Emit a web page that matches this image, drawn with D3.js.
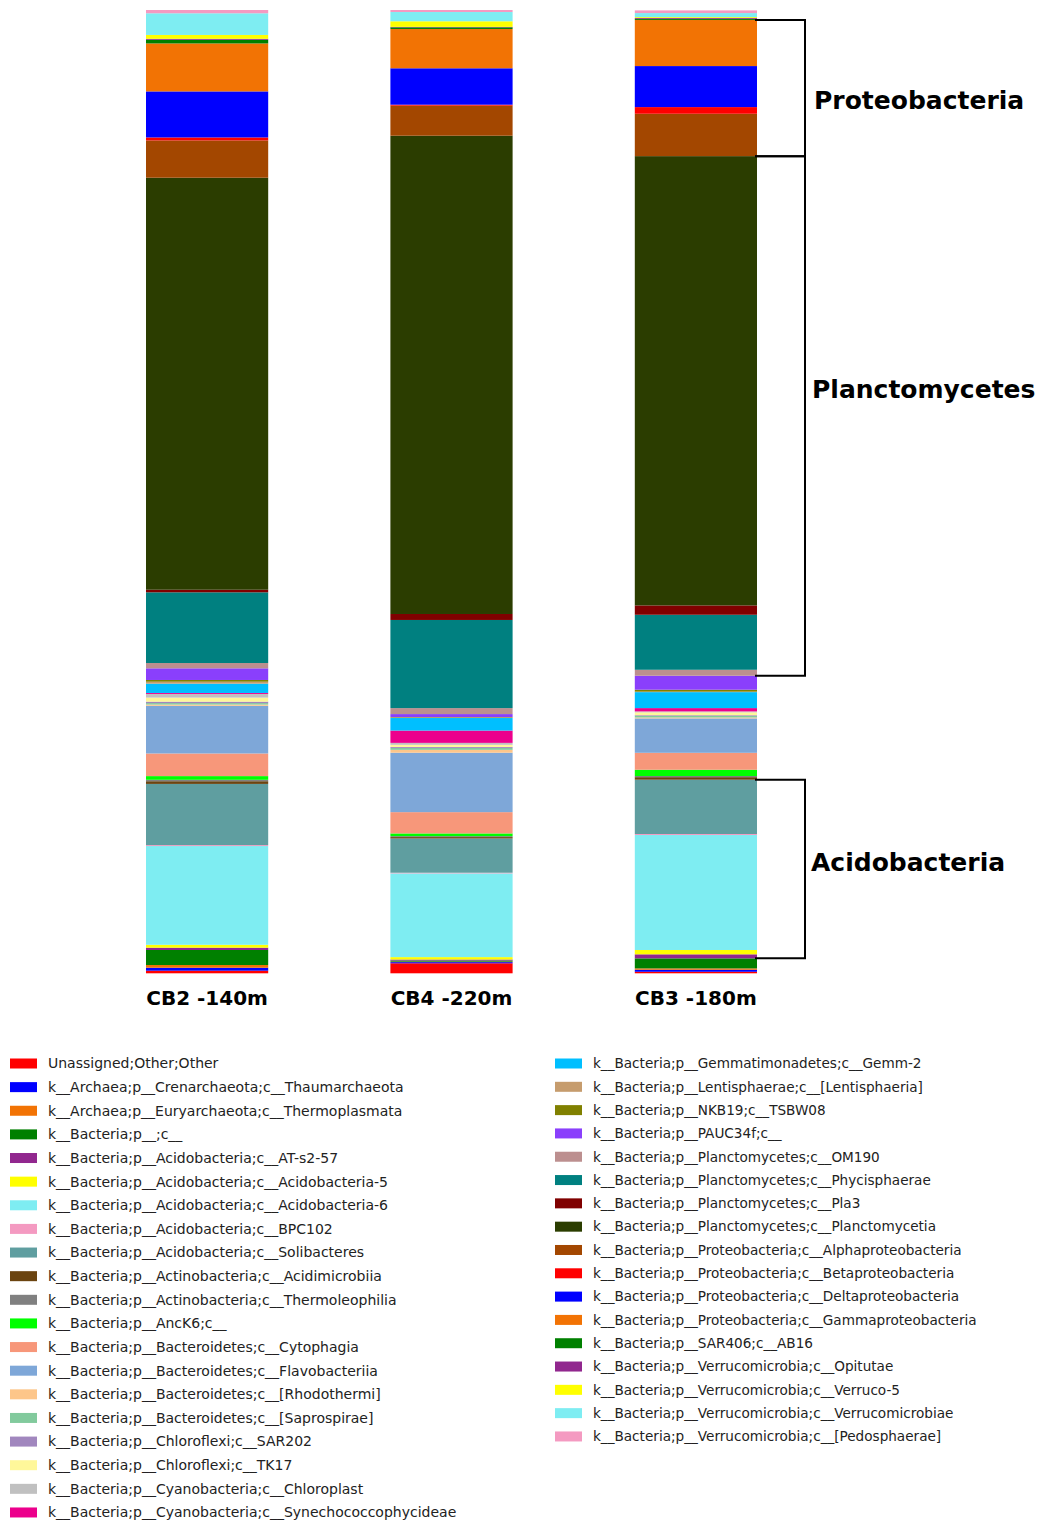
<!DOCTYPE html>
<html>
<head>
<meta charset="utf-8">
<script src="https://cdn.jsdelivr.net/npm/d3@7"></script>
<style>
  html, body { margin: 0; padding: 0; background: #fff; }
  svg { display: block; }
</style>
</head>
<body>
<svg id="chart" width="1040" height="1525"></svg>
<script>
// Relative abundance (%) of bacterial/archaeal classes, stacked bottom-to-top in this order
const categories = [
  "Unassigned;Other;Other",
  "k__Archaea;p__Crenarchaeota;c__Thaumarchaeota",
  "k__Archaea;p__Euryarchaeota;c__Thermoplasmata",
  "k__Bacteria;p__;c__",
  "k__Bacteria;p__Acidobacteria;c__AT-s2-57",
  "k__Bacteria;p__Acidobacteria;c__Acidobacteria-5",
  "k__Bacteria;p__Acidobacteria;c__Acidobacteria-6",
  "k__Bacteria;p__Acidobacteria;c__BPC102",
  "k__Bacteria;p__Acidobacteria;c__Solibacteres",
  "k__Bacteria;p__Actinobacteria;c__Acidimicrobiia",
  "k__Bacteria;p__Actinobacteria;c__Thermoleophilia",
  "k__Bacteria;p__AncK6;c__",
  "k__Bacteria;p__Bacteroidetes;c__Cytophagia",
  "k__Bacteria;p__Bacteroidetes;c__Flavobacteriia",
  "k__Bacteria;p__Bacteroidetes;c__[Rhodothermi]",
  "k__Bacteria;p__Bacteroidetes;c__[Saprospirae]",
  "k__Bacteria;p__Chloroflexi;c__SAR202",
  "k__Bacteria;p__Chloroflexi;c__TK17",
  "k__Bacteria;p__Cyanobacteria;c__Chloroplast",
  "k__Bacteria;p__Cyanobacteria;c__Synechococcophycideae",
  "k__Bacteria;p__Gemmatimonadetes;c__Gemm-2",
  "k__Bacteria;p__Lentisphaerae;c__[Lentisphaeria]",
  "k__Bacteria;p__NKB19;c__TSBW08",
  "k__Bacteria;p__PAUC34f;c__",
  "k__Bacteria;p__Planctomycetes;c__OM190",
  "k__Bacteria;p__Planctomycetes;c__Phycisphaerae",
  "k__Bacteria;p__Planctomycetes;c__Pla3",
  "k__Bacteria;p__Planctomycetes;c__Planctomycetia",
  "k__Bacteria;p__Proteobacteria;c__Alphaproteobacteria",
  "k__Bacteria;p__Proteobacteria;c__Betaproteobacteria",
  "k__Bacteria;p__Proteobacteria;c__Deltaproteobacteria",
  "k__Bacteria;p__Proteobacteria;c__Gammaproteobacteria",
  "k__Bacteria;p__SAR406;c__AB16",
  "k__Bacteria;p__Verrucomicrobia;c__Opitutae",
  "k__Bacteria;p__Verrucomicrobia;c__Verruco-5",
  "k__Bacteria;p__Verrucomicrobia;c__Verrucomicrobiae",
  "k__Bacteria;p__Verrucomicrobia;c__[Pedosphaerae]"
];

const colors = [
  "#ff0000", "#0000ff", "#f27304", "#008000", "#91278e", "#ffff00", "#7eedf2",
  "#f49ac1", "#5f9ea0", "#6b4410", "#808080", "#00ff00", "#f7977a", "#7ea7d8",
  "#fdc68a", "#82ca9d", "#a187be", "#fff79a", "#c0c0c0", "#ec008c", "#00bfff",
  "#c69c6d", "#808000", "#8a3ffc", "#bc8f8f", "#008080", "#800000", "#2b3d00",
  "#a34700", "#ff0000", "#0000ff", "#f27304", "#008000", "#91278e", "#ffff00",
  "#7eedf2", "#f49ac1"
];

const samples = ["CB2 -140m", "CB4 -220m", "CB3 -180m"];

const cb2 = [0.27, 0.31, 0.28, 1.56, 0.24, 0.30, 10.25, 0.10, 6.35, 0.28, 0.15, 0.38,
  2.35, 4.95, 0.13, 0.15, 0.15, 0.42, 0.38, 0.10, 0.97, 0.20, 0.18, 1.21, 0.55,
  7.34, 0.27, 42.77, 3.87, 0.31, 4.78, 4.98, 0.38, 0.10, 0.40, 2.25, 0.34];
const cb4 = [1.04, 0.12, 0.05, 0.12, 0.10, 0.25, 8.69, 0.07, 3.56, 0.14, 0.10, 0.28,
  2.21, 6.17, 0.30, 0.20, 0.10, 0.22, 0.20, 1.28, 1.30, 0.05, 0.05, 0.31, 0.62,
  9.15, 0.62, 49.65, 3.12, 0.10, 3.78, 4.08, 0.17, 0.05, 0.58, 0.96, 0.21];
const cb3 = [0.16, 0.21, 0.14, 1.04, 0.42, 0.45, 11.94, 0.10, 5.64, 0.26, 0.12, 0.65,
  1.76, 3.57, 0.10, 0.15, 0.08, 0.30, 0.10, 0.34, 1.66, 0.05, 0.20, 1.45, 0.62,
  5.71, 0.97, 46.64, 4.40, 0.69, 4.26, 4.78, 0.10, 0.10, 0.10, 0.42, 0.28];

// Phylum brackets drawn beside the CB3 bar: first and last class of each span
const groups = [
  { name: "Proteobacteria", from: "k__Bacteria;p__Proteobacteria;c__Alphaproteobacteria", to: "k__Bacteria;p__Proteobacteria;c__Gammaproteobacteria" },
  { name: "Planctomycetes", from: "k__Bacteria;p__Planctomycetes;c__OM190", to: "k__Bacteria;p__Planctomycetes;c__Planctomycetia" },
  { name: "Acidobacteria", from: "k__Bacteria;p__Acidobacteria;c__AT-s2-57", to: "k__Bacteria;p__Acidobacteria;c__Solibacteres" }
];

const values = { "CB2 -140m": cb2, "CB4 -220m": cb4, "CB3 -180m": cb3 };

// one row per sample, one key per class
const table = samples.map(s => {
  const row = { sample: s };
  categories.forEach((c, i) => { row[c] = values[s][i]; });
  return row;
});

const svg = d3.select("#chart");
const FONT = "'DejaVu Sans', Verdana, sans-serif";

const x = d3.scaleBand().domain(samples).range([146, 757]).paddingInner(0.5).paddingOuter(0);
const y = d3.scaleLinear().domain([0, 100]).range([973.3, 10]);
const color = d3.scaleOrdinal().domain(categories).range(colors);

const series = d3.stack().keys(categories)(table);

svg.append("g")
  .selectAll("g")
  .data(series)
  .join("g")
  .attr("fill", d => color(d.key))
  .selectAll("rect")
  .data(d => d)
  .join("rect")
  .attr("x", d => x(d.data.sample))
  .attr("width", x.bandwidth())
  .attr("y", d => y(d[1]))
  .attr("height", d => Math.max(0, y(d[0]) - y(d[1])));

// sample labels under the bars
const labelAxis = d3.axisBottom(x).tickSize(0).tickPadding(0);
const axisG = svg.append("g")
  .attr("transform", `translate(0, ${y(0) + 17})`)
  .call(labelAxis);
axisG.select(".domain").remove();
axisG.selectAll("text")
  .attr("font-family", FONT)
  .attr("font-weight", "bold")
  .attr("font-size", 20)
  .attr("fill", "#000")
  .attr("dy", "0.75em");

// brackets
const bracketSample = "CB3 -180m";
const seriesByKey = new Map(series.map(s => [s.key, s]));
const sIdx = samples.indexOf(bracketSample);
const barRight = x(bracketSample) + x.bandwidth();
const bracketX = barRight + 48;
const labelShift = { "Proteobacteria": 12, "Planctomycetes": -27, "Acidobacteria": -7 };
const labelIndent = { "Proteobacteria": 9, "Planctomycetes": 7, "Acidobacteria": 6 };

const bg = svg.append("g");
groups.forEach(g => {
  const lo = seriesByKey.get(g.from)[sIdx][0];
  const hi = seriesByKey.get(g.to)[sIdx][1];
  const yTop = y(hi), yBot = y(lo);
  bg.append("path")
    .attr("d", `M${barRight - 2},${yTop}H${bracketX}V${yBot}H${barRight - 2}`)
    .attr("fill", "none")
    .attr("stroke", "#000")
    .attr("stroke-width", 2);
  bg.append("text")
    .attr("x", bracketX + labelIndent[g.name])
    .attr("y", (yTop + yBot) / 2 + labelShift[g.name])
    .attr("dy", "0.35em")
    .attr("font-family", FONT)
    .attr("font-weight", "bold")
    .attr("font-size", 25)
    .attr("fill", "#000")
    .text(g.name);
});

// legend in two columns
const leftCount = 20;
const legend = svg.append("g").attr("font-family", FONT);
categories.forEach((c, i) => {
  const col = i < leftCount ? 0 : 1;
  const row = col === 0 ? i : i - leftCount;
  const lx = col === 0 ? 10 : 555;
  const ly = 1063.5 + row * (col === 0 ? 23.63 : 23.31);
  const item = legend.append("g").attr("transform", `translate(${lx},${ly})`);
  item.append("rect").attr("x", 0).attr("y", -5).attr("width", 27).attr("height", 10).attr("fill", color(c));
  item.append("text").attr("x", 38).attr("y", 0).attr("dy", "0.35em").attr("fill", "#222")
    .attr("font-size", col === 0 ? 14 : 13.6)
    .text(c);
});
</script>
</body>
</html>
